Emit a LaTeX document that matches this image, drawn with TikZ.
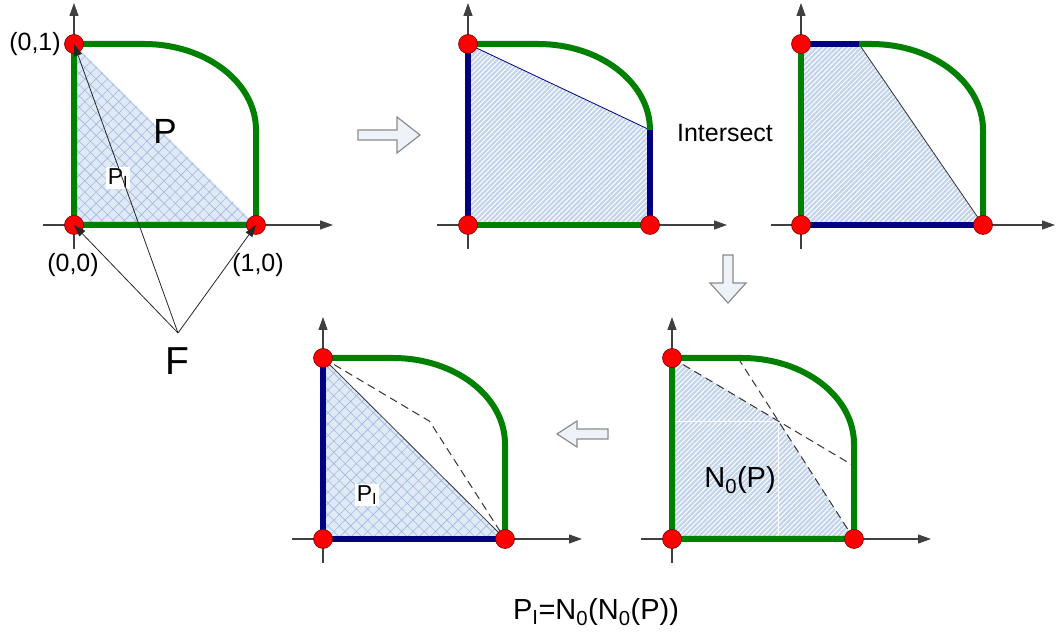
\documentclass[tikz,border=0pt]{standalone}
\usepackage{fontspec}
\setmainfont{Liberation Sans}
\usetikzlibrary{arrows.meta,patterns.meta}
\definecolor{bdgreen}{RGB}{0,128,0}
\definecolor{bdnavy}{RGB}{0,0,128}
\definecolor{regionfill}{RGB}{224,233,246}
\definecolor{hatchfill}{RGB}{196,212,236}
\definecolor{crossline}{RGB}{160,184,222}
\definecolor{arrowfill}{RGB}{238,243,250}
\tikzset{
  axis/.style={line width=1.1pt, draw=black!75, -{Triangle[length=13pt,width=9pt]}},
  greenbd/.style={line width=6pt, draw=bdgreen},
  navybd/.style={line width=6pt, draw=bdnavy},
  corner/.style={circle, fill=red, draw=red!45!black, line width=0.6pt, minimum size=19pt, inner sep=0pt},
  cross/.style={fill=regionfill, postaction={pattern={Hatch[angle=45,distance=8pt,line width=0.6pt]}, pattern color=crossline}},
  hatch/.style={fill=hatchfill, postaction={pattern={Lines[angle=45,distance=3.5pt,line width=1pt]}, pattern color=white}},
  hollow/.style={draw=black!45, line width=1.2pt, fill=arrowfill, line join=miter},
  facet/.style={draw=black!80, line width=1pt, dash pattern=on 8pt off 5pt},
  ptr/.style={draw=black!85, line width=0.8pt, -{Triangle[length=12pt,width=8pt]}},
  lbl/.style={font=\fontsize{25}{30}\selectfont, inner sep=0pt},
  sublbl/.style={font=\fontsize{23}{27}\selectfont, fill=white, inner sep=1.5pt},
  biglbl/.style={font=\fontsize{35}{40}\selectfont, inner sep=0pt}
}
\begin{document}
\begin{tikzpicture}[x=1pt,y=1pt]
  \useasboundingbox (0,0) rectangle (1057,639);
  %panel 1: P and its integer hull
  \begin{scope}[shift={(74,414)}]
    %axes
    \draw[axis] (0,-24) -- (0,222);
    \draw[axis] (-31,0) -- (259,0);
    %region
    \fill[cross] (0,181) -- (182,0) -- (0,0) -- cycle;
    \draw[greenbd] (0,0) -- (0,181) -- (70,181) arc[start angle=90,end angle=0,x radius=112,y radius=86] -- (182,0) -- cycle;
    %corners
    \node[corner] (o1) at (0,0) {};
    \node[corner] (t1) at (0,181) {};
    \node[corner] (r1) at (182,0) {};
  \end{scope}
  \node[lbl] (l01) at (35,595) {(0,1)};
  \node[lbl] (l00) at (73,374) {(0,0)};
  \node[lbl] (l10) at (258,374) {(1,0)};
  \node[biglbl] (pP) at (165,508) {P};
  \node[sublbl] (pI1) at (118,461) {P\textsubscript{I}};
  \node[biglbl, font=\fontsize{39}{44}\selectfont] (nF) at (177,278) {F};
  \coordinate (fo) at (178,306);
  \draw[ptr] (fo) -- (t1.center);
  \draw[ptr] (fo) -- (o1.center);
  \draw[ptr] (fo) -- (r1.center);

  %arrow to panel 2
  \draw[hollow] (358,499) -- (397,499) -- (397,486) -- (420,504) -- (397,522) -- (397,509) -- (358,509) -- cycle;

  %panel 2
  \begin{scope}[shift={(468,414)}]
    \draw[axis] (0,-24) -- (0,222);
    \draw[axis] (-31,0) -- (259,0);
    \fill[hatch] (0,181) -- (182,95) -- (182,0) -- (0,0) -- cycle;
    \draw[bdnavy, line width=0.8pt] (0,181) -- (182,95);
    \draw[greenbd] (0,181) -- (70,181) arc[start angle=90,end angle=0,x radius=112,y radius=86];
    \draw[greenbd] (0,0) -- (182,0);
    \draw[navybd] (0,0) -- (0,181);
    \draw[navybd] (182,95) -- (182,0);
    \node[corner] (o2) at (0,0) {};
    \node[corner] (t2) at (0,181) {};
    \node[corner] (r2) at (182,0) {};
  \end{scope}
  \node[lbl] (isect) at (725,506) {Intersect};

  %panel 3
  \begin{scope}[shift={(801,414)}]
    \draw[axis] (0,-24) -- (0,222);
    \draw[axis] (-30,0) -- (254,0);
    \fill[hatch] (0,181) -- (58,181) -- (182,0) -- (0,0) -- cycle;
    \draw[black!80, line width=0.8pt] (58,181) -- (182,0);
    \draw[greenbd] (0,0) -- (0,181);
    \draw[greenbd] (58,181) -- (70,181) arc[start angle=90,end angle=0,x radius=112,y radius=86] -- (182,0);
    \draw[navybd] (0,181) -- (58,181);
    \draw[navybd] (0,0) -- (182,0);
    \node[corner] (o3) at (0,0) {};
    \node[corner] (t3) at (0,181) {};
    \node[corner] (r3) at (182,0) {};
  \end{scope}

  %arrow down
  \draw[hollow] (723,384) -- (733,384) -- (733,356) -- (746,356) -- (728,336) -- (710,356) -- (723,356) -- cycle;

  %panel 4: N_0(P)
  \begin{scope}[shift={(672,100)}]
    \draw[axis] (0,-24) -- (0,222);
    \draw[axis] (-31,0) -- (259,0);
    \coordinate (k4) at (intersection of 0,181--182,73 and 66,181--182,0);
    \fill[hatch] (0,181) -- (k4) -- (182,0) -- (0,0) -- cycle;
    \draw[white, line width=0.8pt] (k4 -| 0,0) -- (k4) -- (k4 |- 0,0);
    \draw[facet] (0,181) -- (182,73);
    \draw[facet] (66,181) -- (182,0);
    \draw[greenbd] (0,0) -- (0,181) -- (70,181) arc[start angle=90,end angle=0,x radius=112,y radius=86] -- (182,0) -- cycle;
    \node[corner] (o4) at (0,0) {};
    \node[corner] (t4) at (0,181) {};
    \node[corner] (r4) at (182,0) {};
  \end{scope}
  \node[lbl, font=\fontsize{29}{34}\selectfont] (n0p) at (740,159) {N\textsubscript{0}(P)};

  %arrow left
  \draw[hollow] (608,200) -- (577,200) -- (577,192) -- (557,205) -- (577,218) -- (577,210) -- (608,210) -- cycle;

  %panel 5: P_I
  \begin{scope}[shift={(323,100)}]
    \draw[axis] (0,-24) -- (0,222);
    \draw[axis] (-31,0) -- (259,0);
    \coordinate (k5) at (intersection of 0,181--182,73 and 66,181--182,0);
    \fill[cross] (0,181) -- (182,0) -- (0,0) -- cycle;
    \draw[black!80, line width=0.8pt] (0,181) -- (182,0);
    \draw[facet] (0,181) -- (k5) -- (182,0);
    \draw[greenbd] (0,181) -- (70,181) arc[start angle=90,end angle=0,x radius=112,y radius=86] -- (182,0);
    \draw[navybd] (0,181) -- (0,0) -- (182,0);
    \node[corner] (o5) at (0,0) {};
    \node[corner] (t5) at (0,181) {};
    \node[corner] (r5) at (182,0) {};
  \end{scope}
  \node[sublbl] (pI5) at (367,144) {P\textsubscript{I}};

  %result
  \node[lbl, font=\fontsize{29}{34}\selectfont] (res) at (596,27) {P\textsubscript{I}=N\textsubscript{0}(N\textsubscript{0}(P))};
\end{tikzpicture}
\end{document}
